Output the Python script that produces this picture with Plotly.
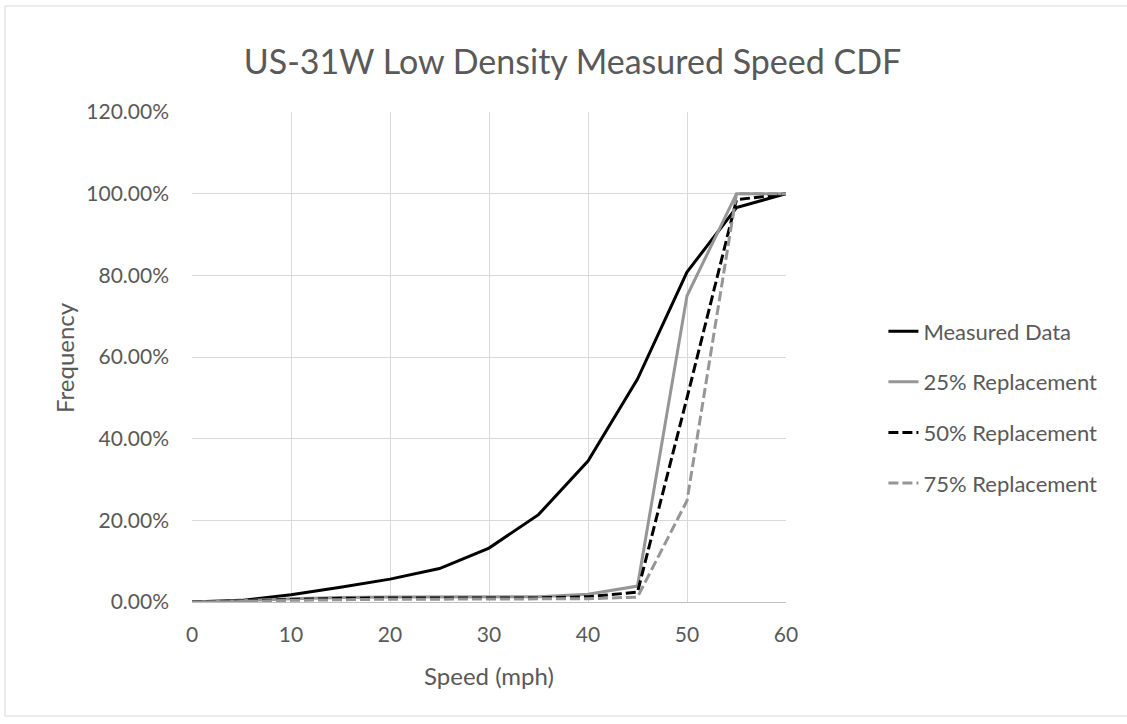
import plotly.graph_objects as go

speed = [0, 5, 10, 15, 20, 25, 30, 35, 40, 45, 50, 55, 60]
measured = [0.0, 0.4, 1.8, 3.6, 5.6, 8.2, 13.2, 21.4, 34.5, 54.6, 80.8, 96.6, 100.0]
repl_25 = [0.0, 0.3, 0.8, 1.1, 1.2, 1.2, 1.2, 1.3, 1.9, 3.9, 75.0, 100.0, 100.0]
repl_50 = [0.0, 0.2, 0.6, 0.9, 1.0, 1.0, 1.0, 1.0, 1.3, 2.4, 50.0, 98.5, 100.0]
repl_75 = [0.0, 0.1, 0.4, 0.6, 0.7, 0.7, 0.7, 0.7, 0.8, 1.2, 24.8, 100.0, 100.0]

series = [
    ("Measured Data", measured, "#000000", "solid"),
    ("25% Replacement", repl_25, "#969696", "solid"),
    ("50% Replacement", repl_50, "#000000", "10px,4px"),
    ("75% Replacement", repl_75, "#969696", "10px,4px"),
]

font = "Lato, Open Sans, sans-serif"
txt = "#595959"

fig = go.Figure()
for i, (name, vals, color, dash) in enumerate(series):
    fig.add_trace(go.Scatter(
        x=speed, y=[v / 100 for v in vals], name=name, mode="lines",
        legendgroup=str(i),
        line=dict(color=color, width=3, dash=dash),
    ))

fig.update_layout(
    width=1127, height=724,
    margin=dict(l=192, r=341, t=112, b=122),
    paper_bgcolor="white", plot_bgcolor="white",
    font=dict(family=font, color=txt, size=21),
    title=dict(text="US-31W Low Density Measured Speed CDF", x=0.508, xanchor="center",
               y=0.914, yanchor="middle", font=dict(size=34, color=txt)),
    xaxis=dict(range=[0, 60], tickvals=[0, 10, 20, 30, 40, 50, 60], showgrid=True,
               gridcolor="#d9d9d9", gridwidth=1, zeroline=False, showline=True,
               linecolor="#bfbfbf", linewidth=1, ticks="", ticklabelstandoff=14),
    yaxis=dict(range=[0, 1.2], dtick=0.2, tickformat=".2%", showgrid=True,
               gridcolor="#d9d9d9", gridwidth=1, zeroline=False, showline=False,
               ticks="", ticklabelstandoff=22),
    legend=dict(x=1.164, y=0.595, xanchor="left", yanchor="top",
                traceorder="grouped", tracegroupgap=19, font=dict(size=22, color=txt)),
    showlegend=True,
)

fig.add_annotation(text="Frequency", xref="paper", yref="paper", x=-0.2155, y=0.5,
                   xanchor="center", yanchor="middle",
                   textangle=-90, showarrow=False, font=dict(size=24, color=txt))
fig.add_annotation(text="Speed (mph)", xref="paper", yref="paper", x=0.5, y=-0.151,
                   xanchor="center", yanchor="middle",
                   showarrow=False, font=dict(size=24, color=txt))

# outer chart border
fig.add_shape(type="rect", xref="paper", yref="paper", x0=-0.3148, x1=1.579,
              y0=-0.2327, y1=1.2163, line=dict(color="#d9d9d9", width=1))

fig.write_html("out.html", config={"displayModeBar": False},
               post_script="document.body.style.margin='0';")
